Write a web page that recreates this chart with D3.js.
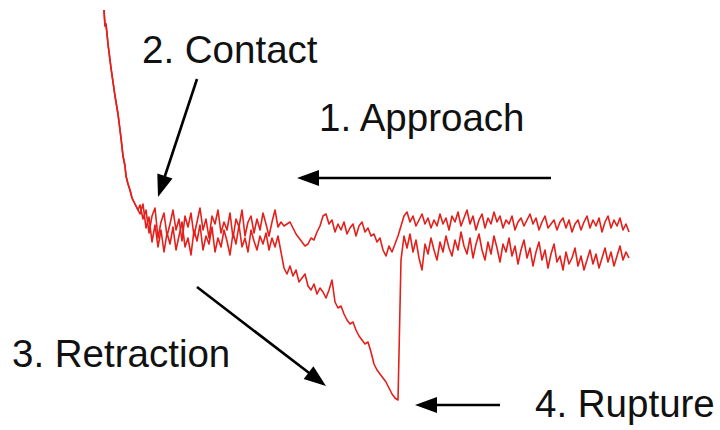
<!DOCTYPE html>
<html>
<head>
<meta charset="utf-8">
<script src="https://cdn.jsdelivr.net/npm/d3@7"></script>
<style>
  body { margin: 0; background: #fff; }
  .label { font-family: "Liberation Sans", Arial, sans-serif; font-size: 38.5px; fill: #111; }
</style>
</head>
<body>
<div id="chart"></div>
<script>
// Set SVG area
var svgWidth = 720;
var svgHeight = 430;

// steep contact region, shared by both curves (distance nm, force pN)
const steepDist  = [4, 5, 6, 8, 10, 11, 13, 15, 16, 18, 20, 21, 23, 25, 26, 28, 30, 32, 35, 38];
const steepForce = [220, 204, 206, 186, 170, 162, 148, 134, 128, 116, 100, 92, 74, 64, 54, 46, 40, 32, 26, 20];

// noisy part, sampled every 3 nm from 40 nm
const sampleStart = 40;
const sampleStep = 3;

const approachForce = [
  25, 11, 20, -3, 14, 22, -8, 8, 17, -6, 6, 20, 0, 11, -11, 14, 3, 17, -6, 8,
  22, 0, 11, -8, 14, 6, 20, -3, 8, 0, 17, -8, 11, 3, 20, -6, 8, 14, -3, 11,
  0, 17, 6, -6, 8, 20, 3, 8, 4, 6, 8, 2, -4, -8, -12, -16, -14, -8, -10, -2,
  4, 14, 16, 6, 10, -2, 6, 0, 8, -4, 2, 6, -6, 4, 8, -2, 2, -6, -4, -12,
  -8, -20, -26, -16, -22, -14, -6, 4, 14, 18, 8, 14, 4, 10, 16, 6, 12, 2, 10, 4,
  16, 6, 12, 0, 14, 8, 18, 4, 12, 20, 6, 14, 0, 10, 16, 2, 12, 6, 18, 8,
  14, 2, 10, 6, 14, 0, 8, 12, 4, 10, 16, 6, 12, 0, 8, 14, 2, 6, 10, 0,
  8, 12, 2, 10, -2, 6, 10, 0, 8, 14, 2, 10, 4, 12, -2, 8, 14, 2, 10, 4,
  12, 0, 6, -2
];

const retractForce = [
  16, 26, 2, 13, -12, 5, -17, 0, -22, -3, -14, 3, -20, -6, 8, -17, -8, -25, 0, -11,
  5, -20, -6, -14, 3, -22, -8, -17, 0, -11, -25, -3, -14, 5, -17, -8, -22, 0, -11, -20,
  -6, -14, -3, -20, -8, -17, -6, -22, -38, -44, -36, -46, -40, -52, -48, -44, -56, -60, -54, -64,
  -58, -62, -68, -60, -50, -72, -78, -76, -84, -90, -94, -92, -100, -106, -110, -114, -112, -122, -134, -140,
  -144, -148, -152, -158, -164, -168, -170, -30, -6, -18, -4, -22, -10, -28, -40, -14, -24, -8, -20, -30,
  -12, -22, -6, -18, -26, -10, -20, -2, -16, -24, -8, -28, -14, -4, -20, -30, -12, -24, -6, -18,
  -32, -14, -22, -8, -26, -16, -34, -20, -10, -28, -18, -36, -22, -12, -30, -20, -38, -24, -14, -32,
  -26, -40, -22, -34, -28, -18, -36, -26, -40, -30, -20, -34, -24, -38, -28, -18, -32, -22, -36, -26,
  -16, -30, -22, -28
];

// annotations in data units
const arrows = [
  { from: [451, 52], to: [197, 52] },
  { from: [97, 151], to: [58, 33] },
  { from: [97, -57], to: [226, -156] },
  { from: [400, -175], to: [315, -175] }
];
const labels = [
  { text: "2. Contact", at: [42, 167] },
  { text: "1. Approach", at: [219, 99] },
  { text: "3. Retraction", at: [-88, -137] },
  { text: "4. Rupture", at: [435, -187] }
];

function toPoints(forces) {
  var pts = steepDist.map((d, i) => ({ d: d, f: steepForce[i] }));
  forces.forEach((f, i) => pts.push({ d: sampleStart + i * sampleStep, f: f }));
  return pts;
}

var svg = d3.select("#chart")
  .append("svg")
  .attr("width", svgWidth)
  .attr("height", svgHeight);

var xScale = d3.scaleLinear().domain([0, 530]).range([100, 630]);
var yScale = d3.scaleLinear().domain([-170, 220]).range([400, 10]);

var line = d3.line()
  .x(d => xScale(d.d))
  .y(d => yScale(d.f));

[retractForce, approachForce].forEach(series => {
  svg.append("path")
    .attr("d", line(toPoints(series)))
    .attr("fill", "none")
    .attr("stroke", "#e3201b")
    .attr("stroke-width", 1.6)
    .attr("stroke-linejoin", "round");
});

// arrows
var headLen = 22, headHalf = 8;
arrows.forEach(a => {
  var x1 = xScale(a.from[0]), y1 = yScale(a.from[1]);
  var x2 = xScale(a.to[0]), y2 = yScale(a.to[1]);
  var len = Math.hypot(x2 - x1, y2 - y1);
  var ux = (x2 - x1) / len, uy = (y2 - y1) / len;
  var bx = x2 - ux * headLen, by = y2 - uy * headLen;
  svg.append("line")
    .attr("x1", x1).attr("y1", y1)
    .attr("x2", bx + ux * 2).attr("y2", by + uy * 2)
    .attr("stroke", "#000")
    .attr("stroke-width", 2.6);
  svg.append("polygon")
    .attr("points", [
      [x2, y2],
      [bx - uy * headHalf, by + ux * headHalf],
      [bx + uy * headHalf, by - ux * headHalf]
    ].map(p => p.join(",")).join(" "))
    .attr("fill", "#000");
});

svg.selectAll("text.label")
  .data(labels)
  .enter()
  .append("text")
  .attr("class", "label")
  .attr("x", d => xScale(d.at[0]))
  .attr("y", d => yScale(d.at[1]))
  .text(d => d.text);
</script>
</body>
</html>
